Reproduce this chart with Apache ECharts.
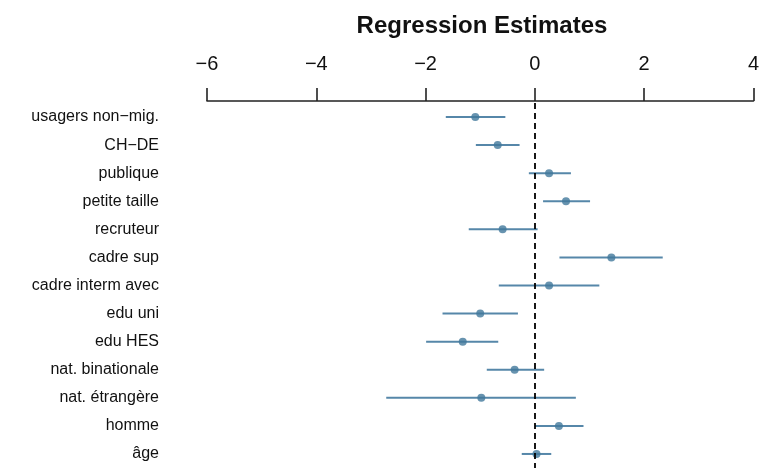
<!DOCTYPE html>
<html>
<head>
<meta charset="utf-8">
<script src="https://cdn.jsdelivr.net/npm/echarts@6/dist/echarts.min.js"></script>
<style>html,body{margin:0;padding:0;background:#fff}#c{width:762px;height:468px}</style>
</head>
<body>
<div id="c"></div>
<script>
const categories = ['usagers non\u2212mig.', 'CH\u2212DE', 'publique', 'petite taille', 'recruteur', 'cadre sup', 'cadre interm avec', 'edu uni', 'edu HES', 'nat. binationale', 'nat. étrangère', 'homme', 'âge'];
const estimates = [-1.09, -0.68, 0.26, 0.57, -0.59, 1.40, 0.26, -1.00, -1.32, -0.37, -0.98, 0.44, 0.03];
const lower = [-1.63, -1.08, -0.11, 0.15, -1.21, 0.45, -0.66, -1.69, -1.99, -0.88, -2.72, 0.00, -0.24];
const upper = [-0.54, -0.28, 0.66, 1.01, 0.05, 2.34, 1.18, -0.31, -0.67, 0.17, 0.75, 0.89, 0.30];
const xTicks = [-6, -4, -2, 0, 2, 4];
const titleText = 'Regression Estimates';

const lineColor = '#5687a9';
const dotColor = '#41789b';
const font = '"Liberation Sans", Arial, sans-serif';

const chart = echarts.init(document.getElementById('c'), null, {renderer: 'canvas'});
chart.setOption({
  animation: false,
  backgroundColor: '#fff',
  graphic: [{
    type: 'text', x: 482, y: 26,
    style: {text: titleText, textAlign: 'center', textVerticalAlign: 'middle',
      font: 'bold 24px ' + font, fill: '#111'}
  }],
  grid: {left: 207, right: 3, top: 103, bottom: 0, containLabel: false},
  xAxis: {
    type: 'value', position: 'top', offset: 2,
    min: xTicks[0], max: xTicks[xTicks.length - 1], interval: 2,
    axisLine: {show: true, lineStyle: {color: '#222', width: 1.6}},
    axisTick: {show: true, inside: false, length: 13, lineStyle: {color: '#222', width: 1.6}},
    splitLine: {show: false},
    axisLabel: {margin: 27, fontSize: 20, fontFamily: font, color: '#111',
      formatter: v => v < 0 ? '\u2212' + Math.abs(v) : String(v)}
  },
  yAxis: {
    type: 'category', data: categories, inverse: true,
    axisLine: {show: false}, axisTick: {show: false}, splitLine: {show: false},
    axisLabel: {margin: 48, fontSize: 16, fontFamily: font, color: '#111', padding: [4, 0, 0, 0]}
  },
  series: [
    {
      type: 'custom',
      data: categories.map((c, i) => [i, lower[i], upper[i]]),
      encode: {x: [1, 2], y: 0},
      renderItem: (params, api) => {
        const i = api.value(0);
        const p1 = api.coord([api.value(1), i]);
        const p2 = api.coord([api.value(2), i]);
        return {type: 'line', shape: {x1: p1[0], y1: p1[1], x2: p2[0], y2: p2[1]},
          style: {stroke: lineColor, lineWidth: 2}};
      },
      z: 2
    },
    {
      type: 'scatter',
      data: estimates.map((v, i) => [v, i]),
      symbol: 'circle', symbolSize: 8,
      itemStyle: {color: dotColor},
      z: 3,
      markLine: {
        silent: true, symbol: ['none', 'none'],
        label: {show: false},
        lineStyle: {color: '#000', type: [6, 4], width: 1.8},
        data: [{xAxis: 0}]
      }
    }
  ]
});
</script>
</body>
</html>
